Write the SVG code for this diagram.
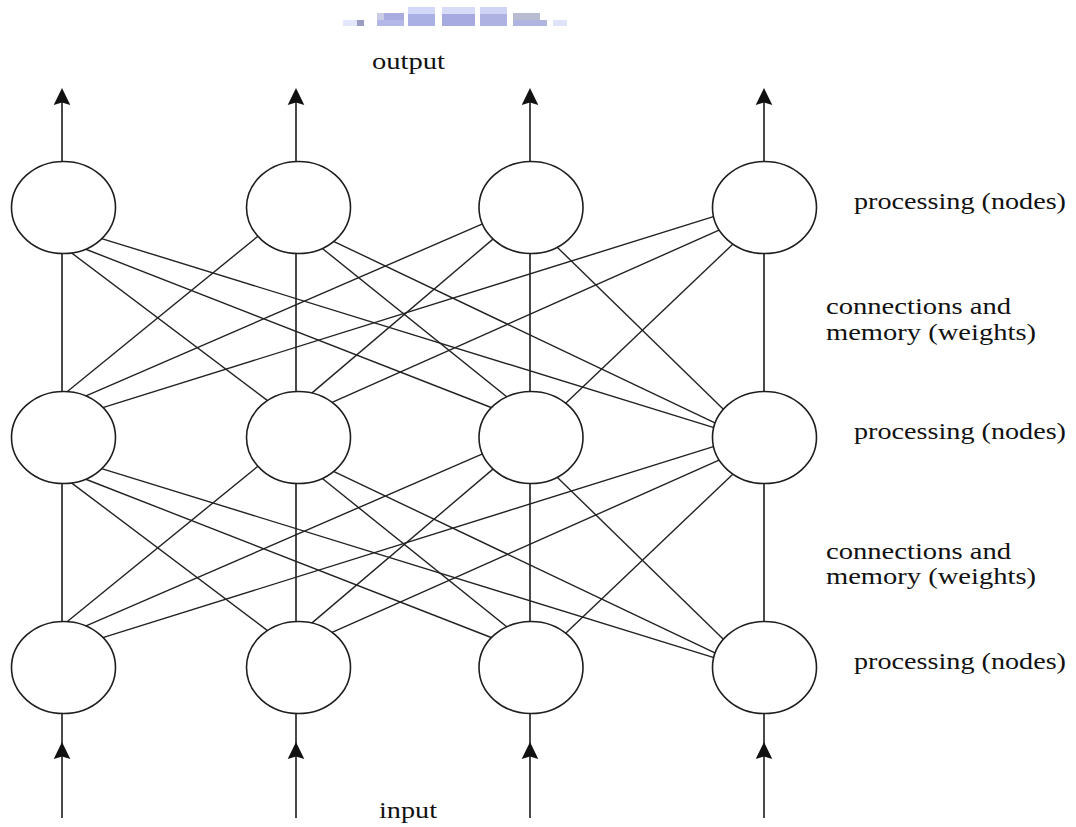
<svg xmlns="http://www.w3.org/2000/svg" xmlns:xlink="http://www.w3.org/1999/xlink" width="1076" height="827" viewBox="0 0 1076 827">
  <style>
    .node { fill: #ffffff; stroke: #1e1e1e; stroke-width: 1.6; }
    .wire { stroke: #222222; stroke-width: 1.4; fill: none; }
    .axis { stroke: #2a2a2a; stroke-width: 1.7; fill: none; }
    .label { font-family: "Liberation Serif", "Times New Roman", serif; font-size: 23px; fill: #111111; }
    .smudge rect { shape-rendering: crispEdges; }
  </style>
  <defs>
    <!-- arrowhead with a slightly notched back, tip at the origin pointing up -->
    <path id="head" d="M0,0 L8.3,17 L0,14.5 L-8.3,17 Z" fill="#111111"/>
  </defs>

  <rect width="1076" height="827" fill="#ffffff"/>

  <!-- pixelated caption strip at the very top -->
  <g class="smudge">
    <rect x="343" y="20" width="14" height="6" fill="#e4e6fb"/>
    <rect x="357" y="20" width="7" height="6" fill="#9a9cc4"/>
    <rect x="377" y="13" width="7" height="7" fill="#c8cce4"/>
    <rect x="384" y="13" width="20" height="7" fill="#a8ace0"/>
    <rect x="377" y="20" width="27" height="6" fill="#b4b8e8"/>
    <rect x="408" y="7" width="27" height="7" fill="#d4d8f8"/>
    <rect x="408" y="14" width="27" height="12" fill="#aab0e4"/>
    <rect x="442" y="7" width="33" height="7" fill="#d8dcf8"/>
    <rect x="442" y="14" width="33" height="12" fill="#a6aae0"/>
    <rect x="480" y="7" width="27" height="7" fill="#d0d4f4"/>
    <rect x="480" y="14" width="27" height="12" fill="#aeb2e2"/>
    <rect x="513" y="13" width="27" height="7" fill="#b8bcd0"/>
    <rect x="513" y="20" width="34" height="6" fill="#b0b4e0"/>
    <rect x="553" y="20" width="14" height="6" fill="#e0e4fa"/>
  </g>

  <!-- connectors: vertical feeds, weight lines between layers, input and output arrows -->
  <g id="connectors">
    <!-- output arrows -->
    <g class="axis">
      <line x1="62" y1="207" x2="62" y2="100"/>
      <line x1="296" y1="207" x2="296" y2="100"/>
      <line x1="530" y1="207" x2="530" y2="100"/>
      <line x1="764" y1="207" x2="764" y2="100"/>
    </g>
    <use xlink:href="#head" href="#head" x="62" y="88"/>
    <use xlink:href="#head" href="#head" x="296" y="88"/>
    <use xlink:href="#head" href="#head" x="530" y="88"/>
    <use xlink:href="#head" href="#head" x="764" y="88"/>

    <!-- input arrows -->
    <g class="axis">
      <line x1="62" y1="818" x2="62" y2="667"/>
      <line x1="296" y1="818" x2="296" y2="667"/>
      <line x1="530" y1="818" x2="530" y2="667"/>
      <line x1="764" y1="818" x2="764" y2="667"/>
    </g>
    <use xlink:href="#head" href="#head" x="62" y="742"/>
    <use xlink:href="#head" href="#head" x="296" y="742"/>
    <use xlink:href="#head" href="#head" x="530" y="742"/>
    <use xlink:href="#head" href="#head" x="764" y="742"/>

    <!-- straight links between stacked nodes -->
    <g class="axis">
      <line x1="62" y1="207" x2="62" y2="667"/>
      <line x1="296" y1="207" x2="296" y2="667"/>
      <line x1="530" y1="207" x2="530" y2="667"/>
      <line x1="764" y1="207" x2="764" y2="667"/>
    </g>

    <!-- weights: upper layer pair -->
    <g id="weights-upper" class="wire">
      <line x1="69.8" y1="251.6" x2="271.2" y2="403.4"/>
      <line x1="81.3" y1="247.5" x2="493.7" y2="408.5"/>
      <line x1="99.2" y1="237.8" x2="718.8" y2="429.2"/>
      <line x1="260.1" y1="234.5" x2="64.9" y2="393.5"/>
      <line x1="319.9" y1="246.5" x2="510.1" y2="399.5"/>
      <line x1="331.4" y1="240.3" x2="718.6" y2="424.7"/>
      <line x1="483.7" y1="223.4" x2="84.3" y2="396.6"/>
      <line x1="495" y1="237.4" x2="310" y2="394.6"/>
      <line x1="554.1" y1="244.2" x2="724.9" y2="410.8"/>
      <line x1="715.8" y1="215.8" x2="101.2" y2="408.2"/>
      <line x1="720.7" y1="229.4" x2="329.3" y2="403.6"/>
      <line x1="734.9" y1="242.2" x2="564.1" y2="404.8"/>
    </g>

    <!-- weights: lower layer pair -->
    <g id="weights-lower" class="wire">
      <line x1="69.8" y1="481.6" x2="271.2" y2="633.4"/>
      <line x1="81.3" y1="477.5" x2="493.7" y2="638.5"/>
      <line x1="99.2" y1="467.8" x2="718.8" y2="659.2"/>
      <line x1="260.1" y1="464.5" x2="64.9" y2="623.5"/>
      <line x1="319.9" y1="476.5" x2="510.1" y2="629.5"/>
      <line x1="331.4" y1="470.3" x2="718.6" y2="654.7"/>
      <line x1="483.7" y1="453.4" x2="84.3" y2="626.6"/>
      <line x1="495" y1="467.4" x2="310" y2="624.6"/>
      <line x1="554.1" y1="474.2" x2="724.9" y2="640.8"/>
      <line x1="715.8" y1="445.8" x2="101.2" y2="638.2"/>
      <line x1="720.7" y1="459.4" x2="329.3" y2="633.6"/>
      <line x1="734.9" y1="472.2" x2="564.1" y2="634.8"/>
    </g>
  </g>

  <!-- output layer -->
  <g id="out-1"><ellipse class="node" cx="63.5" cy="207.5" rx="52" ry="46"/></g>
  <g id="out-2"><ellipse class="node" cx="298.5" cy="207.5" rx="52" ry="46"/></g>
  <g id="out-3"><ellipse class="node" cx="531" cy="207.5" rx="52" ry="46"/></g>
  <g id="out-4"><ellipse class="node" cx="764.5" cy="207.5" rx="52" ry="46"/></g>

  <!-- hidden layer -->
  <g id="hid-1"><ellipse class="node" cx="63.5" cy="437.5" rx="52" ry="46"/></g>
  <g id="hid-2"><ellipse class="node" cx="298.5" cy="437.5" rx="52" ry="46"/></g>
  <g id="hid-3"><ellipse class="node" cx="531" cy="437.5" rx="52" ry="46"/></g>
  <g id="hid-4"><ellipse class="node" cx="764.5" cy="437.5" rx="52" ry="46"/></g>

  <!-- input layer -->
  <g id="in-1"><ellipse class="node" cx="63.5" cy="667.5" rx="52" ry="46"/></g>
  <g id="in-2"><ellipse class="node" cx="298.5" cy="667.5" rx="52" ry="46"/></g>
  <g id="in-3"><ellipse class="node" cx="531" cy="667.5" rx="52" ry="46"/></g>
  <g id="in-4"><ellipse class="node" cx="764.5" cy="667.5" rx="52" ry="46"/></g>

  <!-- labels -->
  <g id="labels">
    <text class="label" x="372" y="69" textLength="73" lengthAdjust="spacingAndGlyphs">output</text>
    <text class="label" x="379" y="818" textLength="58" lengthAdjust="spacingAndGlyphs">input</text>
    <text class="label" x="854" y="209" textLength="212" lengthAdjust="spacingAndGlyphs">processing (nodes)</text>
    <text class="label" x="854" y="439" textLength="212" lengthAdjust="spacingAndGlyphs">processing (nodes)</text>
    <text class="label" x="854" y="669" textLength="212" lengthAdjust="spacingAndGlyphs">processing (nodes)</text>
    <text class="label" x="826" y="313.5" textLength="185" lengthAdjust="spacingAndGlyphs">connections and</text>
    <text class="label" x="826" y="339.5" textLength="210" lengthAdjust="spacingAndGlyphs">memory (weights)</text>
    <text class="label" x="826" y="558.5" textLength="185" lengthAdjust="spacingAndGlyphs">connections and</text>
    <text class="label" x="826" y="584" textLength="210" lengthAdjust="spacingAndGlyphs">memory (weights)</text>
  </g>
</svg>
